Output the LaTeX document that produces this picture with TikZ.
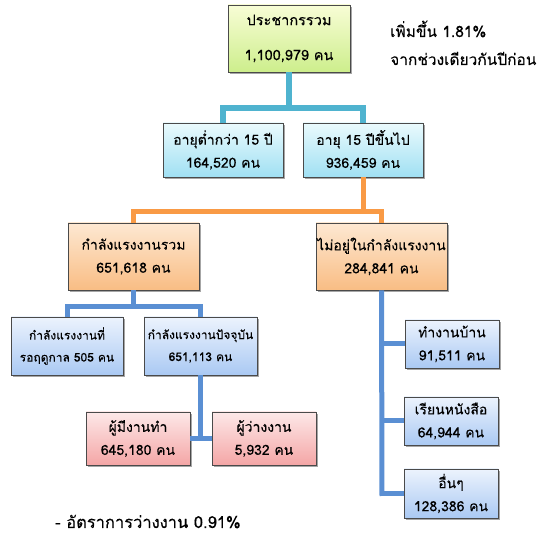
\documentclass[tikz,border=0pt]{standalone}
\usepackage{fontspec}
\setmainfont[Script=Thai,FakeBold=0.2]{Loma}
\usetikzlibrary{shadows}
\definecolor{lineAqua}{HTML}{4FB3CF}
\definecolor{lineOrange}{HTML}{F99A45}
\definecolor{lineBlue}{HTML}{5A8FD3}
\definecolor{boxEdge}{HTML}{4A4A4A}
\tikzset{
  box/.style={draw=boxEdge, line width=0.8pt, rectangle, align=center,
    inner sep=1pt, drop shadow={shadow xshift=2pt, shadow yshift=-2pt, opacity=0.35, fill=black},
    font=\fontsize{14}{23}\selectfont},
  greenbox/.style={box, top color={rgb,255:red,248;green,253;blue,214}, bottom color={rgb,255:red,205;green,238;blue,140}},
  aquabox/.style={box, top color={rgb,255:red,234;green,250;blue,253}, bottom color={rgb,255:red,160;green,224;blue,243}},
  orangebox/.style={box, top color={rgb,255:red,253;green,232;blue,210}, bottom color={rgb,255:red,249;green,189;blue,132}},
  bluebox/.style={box, top color={rgb,255:red,236;green,243;blue,253}, bottom color={rgb,255:red,170;green,201;blue,243}},
  pinkbox/.style={box, top color={rgb,255:red,253;green,232;blue,232}, bottom color={rgb,255:red,244;green,166;blue,166}},
  aqualine/.style={draw=lineAqua, line width=5.5pt},
  orangeline/.style={draw=lineOrange, line width=5pt},
  blueline/.style={draw=lineBlue, line width=5pt},
  note/.style={anchor=base west, inner sep=0pt, font=\fontsize{15.5}{18}\selectfont},
}
\begin{document}
\begin{tikzpicture}[x=1pt,y=-1pt]
\useasboundingbox (0,0) rectangle (539,534);
\coordinate (j1) at (289,108);
\coordinate (j2) at (363,212);
\coordinate (j3) at (133.5,307);
\coordinate (j4) at (200.5,438.5);
\coordinate (t1) at (382,344);
\coordinate (t2) at (382,421);
\coordinate (t3) at (382,493.5);
\coordinate (tend) at (382,496);

\node[greenbox, minimum width=122pt, minimum height=67pt, font=\fontsize{14.5}{35}\selectfont] (top) at (289,38.5) {ประชากรรวม\\1,100,979 คน};
\node[aquabox, minimum width=120pt, minimum height=54pt] (b1) at (223,150) {อายุต่ำกว่า 15 ปี\\164,520 คน};
\node[aquabox, minimum width=120pt, minimum height=54pt] (b2) at (363,150) {อายุ 15 ปีขึ้นไป\\936,459 คน};
\node[orangebox, minimum width=131pt, minimum height=67pt] (c1) at (133.5,256.5) {กำลังแรงงานรวม\\651,618 คน};
\node[orangebox, minimum width=131pt, minimum height=67pt] (c2) at (381.5,256.5) {ไม่อยู่ในกำลังแรงงาน\\284,841 คน};
\node[bluebox, minimum width=112pt, minimum height=58pt, font=\fontsize{12}{22}\selectfont] (d1) at (67,346) {กำลังแรงงานที่\\รอฤดูกาล 505 คน};
\node[bluebox, minimum width=113pt, minimum height=58pt, font=\fontsize{12}{22}\selectfont] (d2) at (200.5,346) {กำลังแรงงานปัจจุบัน\\651,113 คน};
\node[pinkbox, minimum width=104pt, minimum height=53pt] (e1) at (138,438.5) {ผู้มีงานทำ\\645,180 คน};
\node[pinkbox, minimum width=104pt, minimum height=53pt] (e2) at (264,438.5) {ผู้ว่างงาน\\5,932 คน};
\node[bluebox, minimum width=94pt, minimum height=48pt] (f1) at (452,344) {ทำงานบ้าน\\91,511 คน};
\node[bluebox, minimum width=94pt, minimum height=48pt] (f2) at (451,421) {เรียนหนังสือ\\64,944 คน};
\node[bluebox, minimum width=94pt, minimum height=49pt] (f3) at (451,493.5) {อื่นๆ\\128,386 คน};

\draw[aqualine] (top.south) -- (j1);
\draw[aqualine] (b1.north) |- (j1) -| (b2.north);
\draw[orangeline] (b2.south) -- (j2);
\draw[orangeline] (c1.north) |- (j2) -| (c2.north);
\draw[blueline] (c1.south) -- (j3);
\draw[blueline] (d1.north) |- (j3) -| (d2.north);
\draw[blueline] (d2.south) -- (j4);
\draw[blueline] (e1.east) -- (e2.west);
\draw[blueline] (c2.south) -- (tend);
\draw[blueline] (t1) -- (f1.west);
\draw[blueline] (t2) -- (f2.west);
\draw[blueline] (t3) -- (f3.west);

\node[note] (n1) at (390,37) {เพิ่มขึ้น 1.81\%};
\node[note] (n2) at (390,65) {จากช่วงเดียวกันปีก่อน};
\node[note, font=\fontsize{16.5}{18}\selectfont] (n3) at (55,528) {- อัตราการว่างงาน 0.91\%};
\end{tikzpicture}
\end{document}
